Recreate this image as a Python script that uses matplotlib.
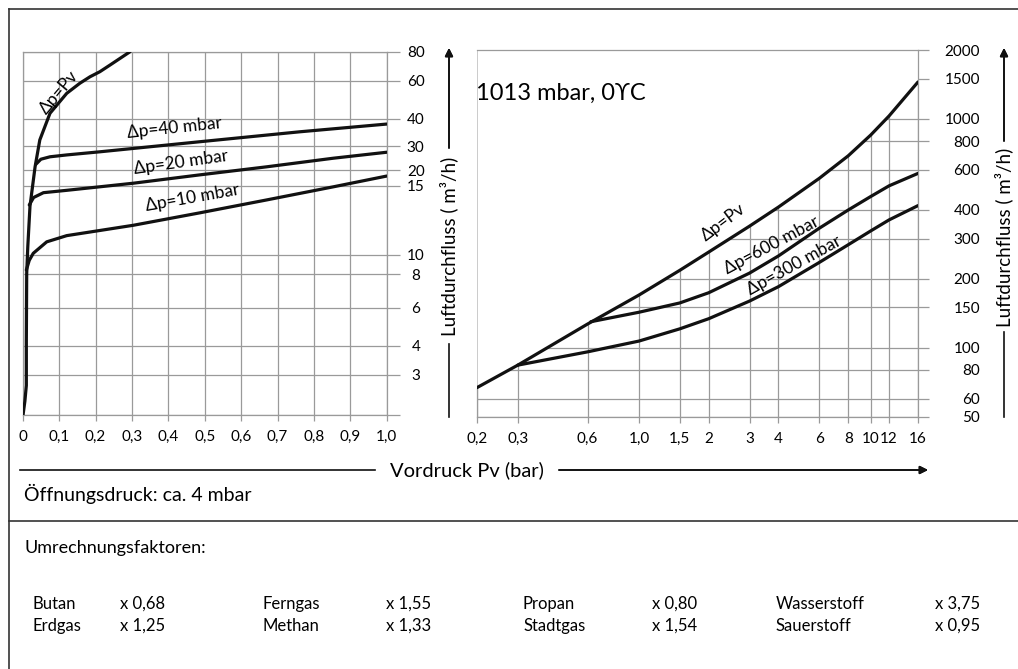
import numpy as np
import matplotlib.pyplot as plt
from matplotlib.lines import Line2D
from matplotlib.ticker import NullLocator

plt.rcParams['font.family'] = ['Lato', 'DejaVu Sans']

W, H = 1018, 669
GRID = '#9a9a9a'
INK = '#111111'

# ---------------- left chart: Vordruck 0 ... 1 bar ----------------
left_xticks = [0, 0.1, 0.2, 0.3, 0.4, 0.5, 0.6, 0.7, 0.8, 0.9, 1.0]
left_xlabels = ['0', '0,1', '0,2', '0,3', '0,4', '0,5', '0,6', '0,7', '0,8', '0,9', '1,0']
left_yticks = [2, 3, 4, 6, 8, 10, 15, 20, 30, 40, 60, 80]
left_ylabels = ['', '3', '4', '6', '8', '10', '15', '20', '30', '40', '60', '80']
# the printed flow scale is hand drawn and not an even log scale,
# so the axis is warped: height of every tick line above the bottom line
left_ytick_height = [0, 40, 69.3, 107.3, 140.7, 160, 229.3, 245, 269, 296, 334.3, 363.3]

l_pv_x = [0.0, 0.006, 0.010, 0.010, 0.011, 0.014, 0.020, 0.034, 0.047, 0.075, 0.121, 0.157, 0.185, 0.212, 0.240, 0.295]
l_pv_y = [1.95, 2.3, 2.7, 4.2, 8.1, 10.5, 13.3, 21.1, 32, 42.5, 52.5, 58.4, 62.4, 65.6, 70.1, 80]

l_40_x = [0.036, 0.050, 0.075, 0.121, 0.212, 0.487, 0.761, 1.0]
l_40_y = [22.0, 24.0, 25.0, 25.8, 27.2, 31.4, 34.9, 37.9]

l_20_x = [0.018, 0.030, 0.057, 0.121, 0.304, 0.487, 0.670, 0.853, 1.0]
l_20_y = [13.4, 14.0, 14.4, 14.6, 15.7, 18.3, 21.1, 24.4, 27.0]

l_10_x = [0.010, 0.018, 0.029, 0.066, 0.121, 0.304, 0.487, 0.670, 0.853, 1.0]
l_10_y = [8.4, 9.4, 10.1, 10.8, 11.2, 11.9, 12.8, 13.8, 14.9, 17.9]

# ---------------- right chart: Vordruck 0,2 ... 16 bar ----------------
right_xticks = [0.2, 0.3, 0.6, 1.0, 1.5, 2, 3, 4, 6, 8, 10, 12, 16]
right_xlabels = ['0,2', '0,3', '0,6', '1,0', '1,5', '2', '3', '4', '6', '8', '10', '12', '16']
right_yticks = [50, 60, 80, 100, 150, 200, 300, 400, 600, 800, 1000, 1500, 2000]
right_ylabels = [str(v) for v in right_yticks]

r_pv_x = [0.2, 0.3, 0.6, 1.0, 1.5, 2, 3, 4, 6, 8, 10, 12, 16]
r_pv_y = [67, 84, 127, 170, 218, 262, 340, 412, 550, 690, 850, 1030, 1450]

r_600_x = [0.62, 1.0, 1.5, 2, 3, 4, 6, 8, 10, 12, 16]
r_600_y = [130, 143, 157, 174, 212, 252, 333, 400, 458, 510, 578]

r_300_x = [0.3, 0.6, 1.0, 1.5, 2, 3, 4, 6, 8, 10, 12, 16]
r_300_y = [84, 96, 107, 121, 134, 160, 185, 236, 282, 324, 362, 418]

# ---------------- conversion factors ----------------
gas_names = [['Butan', 'Erdgas'], ['Ferngas', 'Methan'], ['Propan', 'Stadtgas'], ['Wasserstoff', 'Sauerstoff']]
gas_factors = [['x 0,68', 'x 1,25'], ['x 1,55', 'x 1,33'], ['x 0,80', 'x 1,54'], ['x 3,75', 'x 0,95']]


def fx(x):
    return x / W


def fy(y):
    return 1 - y / H


# warped scale for the left flow axis
_lk = np.log10(left_yticks)
_lh = np.array(left_ytick_height, float)
_dec = (_lh[-1] - _lh[0]) / (_lk[-1] - _lk[0])
LK = np.r_[_lk[0] - 6, _lk, _lk[-1] + 6]
LH = np.r_[_lh[0] - 6 * _dec, _lh, _lh[-1] + 6 * _dec]


def warp_fwd(v):
    v = np.clip(np.asarray(v, float), 1e-6, None)
    return np.interp(np.log10(v), LK, LH)


def warp_inv(h):
    return 10 ** np.interp(np.asarray(h, float), LH, LK)


fig = plt.figure(figsize=(W / 100, H / 100), dpi=100)

# ---- left axes ----
ax1 = fig.add_axes([fx(22.7), fy(415), 364 / W, 363.3 / H])
ax1.set_yscale('function', functions=(warp_fwd, warp_inv))
ax1.set_xlim(0, 1.0)
ax1.set_ylim(2, 80)
ax1.set_xticks(left_xticks, left_xlabels)
ax1.set_yticks(left_yticks, left_ylabels)
ax1.yaxis.set_minor_locator(NullLocator())
ax1.set_axisbelow(True)
ax1.grid(True, color=GRID, lw=0.9)
for s in ax1.spines.values():
    s.set_color(GRID)
    s.set_linewidth(0.9)
ax1.tick_params(axis='y', left=False, right=True, labelleft=False, labelright=True,
                length=9.4, width=0.9, color=GRID, pad=11.5, labelsize=11)
ax1.tick_params(axis='x', length=4, width=0.9, color=GRID, pad=7, labelsize=11)
for t in ax1.get_yticklabels():
    t.set_horizontalalignment('center')

for xs, ys in [(l_pv_x, l_pv_y), (l_40_x, l_40_y), (l_20_x, l_20_y), (l_10_x, l_10_y)]:
    ax1.plot(xs, ys, color=INK, lw=2.3, zorder=3, solid_capstyle='round', solid_joinstyle='round')

ax1.text(0.100, 53, 'Δp=Pv', rotation=50, ha='center', va='center', fontsize=12.5, zorder=4)
ax1.text(0.418, 36.5, 'Δp=40 mbar', rotation=6, ha='center', va='center', fontsize=12.5, zorder=4)
ax1.text(0.435, 22.8, 'Δp=20 mbar', rotation=8, ha='center', va='center', fontsize=12.5, zorder=4)
ax1.text(0.465, 14.0, 'Δp=10 mbar', rotation=10, ha='center', va='center', fontsize=12.5, zorder=4)

# ---- right axes ----
ax2 = fig.add_axes([fx(477), fy(416.7), 441 / W, 366.7 / H])
ax2.set_xscale('log')
ax2.set_yscale('log')
ax2.set_xlim(0.2, 16)
ax2.set_ylim(50, 2000)
ax2.set_xticks(right_xticks, right_xlabels)
ax2.set_yticks(right_yticks, right_ylabels)
ax2.xaxis.set_minor_locator(NullLocator())
ax2.yaxis.set_minor_locator(NullLocator())
ax2.set_axisbelow(True)
ax2.grid(True, color=GRID, lw=0.9)
for s in ax2.spines.values():
    s.set_visible(False)
ax2.tick_params(axis='y', left=False, right=True, labelleft=False, labelright=True,
                length=8, width=0.9, color=GRID, pad=36.7, labelsize=11)
ax2.tick_params(axis='x', length=4, width=0.9, color=GRID, pad=7, labelsize=11)
for t in ax2.get_yticklabels():
    t.set_horizontalalignment('right')

# grid is only printed below the upper curve
ax2.fill_between(r_pv_x, r_pv_y, 2000, color='white', lw=0, zorder=1)
ax2.axhline(2000, color=GRID, lw=0.9, zorder=1.5, clip_on=False)
ax2.axhline(50, color=GRID, lw=0.9, zorder=1.5, clip_on=False)
ax2.axvline(16, color=GRID, lw=0.9, zorder=1.5, clip_on=False)
ax2.vlines(0.2, 50, r_pv_y[0], color=GRID, lw=0.9, zorder=1.5, clip_on=False)

for xs, ys in [(r_pv_x, r_pv_y), (r_600_x, r_600_y), (r_300_x, r_300_y)]:
    ax2.plot(xs, ys, color=INK, lw=2.3, zorder=3, solid_capstyle='round', solid_joinstyle='round')

ax2.text(2.3, 355, 'Δp=Pv', rotation=37, ha='center', va='center', fontsize=12.5, zorder=4)
ax2.text(3.72, 280, 'Δp=600 mbar', rotation=28, ha='center', va='center', fontsize=12.5, zorder=4)
ax2.text(4.67, 228, 'Δp=300 mbar', rotation=29, ha='center', va='center', fontsize=12.5, zorder=4)

fig.text(fx(476), fy(93), '1013 mbar, 0ϒC', fontsize=17, va='center', ha='left')

# ---- axis titles with arrows ----
arrow = dict(arrowstyle='-|>', color=INK, lw=1.2, mutation_scale=12, shrinkA=0, shrinkB=0)


def vline(x, y0, y1):
    fig.add_artist(Line2D([fx(x), fx(x)], [fy(y0), fy(y1)], color=INK, lw=1.2, transform=fig.transFigure))


def hline(x0, x1, y, c=INK, lw=1.2):
    fig.add_artist(Line2D([fx(x0), fx(x1)], [fy(y), fy(y)], color=c, lw=lw, transform=fig.transFigure))


for xl, yc, ylow, yup in [(449, 246, 344, 148), (1004, 237, 332, 141)]:
    fig.text(fx(xl), fy(yc), 'Luftdurchfluss ( m³/h)', rotation=90, ha='center', va='center', fontsize=13.5)
    vline(xl, 417, ylow)
    fig.add_artist(plt.annotate('', xy=(fx(xl), fy(48)), xytext=(fx(xl), fy(yup)),
                                xycoords='figure fraction', textcoords='figure fraction', arrowprops=arrow))

fig.text(fx(467), fy(470), 'Vordruck Pv (bar)', ha='center', va='center', fontsize=14.5)
hline(20, 375, 470)
fig.add_artist(plt.annotate('', xy=(fx(928), fy(470)), xytext=(fx(559), fy(470)),
                            xycoords='figure fraction', textcoords='figure fraction', arrowprops=arrow))

# ---- frame and notes ----
fig.add_artist(Line2D([fx(9), fx(9)], [fy(9), fy(H)], color='#333333', lw=1.2, transform=fig.transFigure))
hline(9, W, 9, c='#333333')
hline(9, W, 521, c='#333333')

fig.text(fx(24), fy(494), 'Öffnungsdruck: ca. 4 mbar', va='center', fontsize=14)
fig.text(fx(24), fy(548), 'Umrechnungsfaktoren:', va='center', fontsize=13)

name_x = [33, 263, 523, 776]
fac_x = [120, 386, 652, 935]
row_y = [604, 626]
for c in range(4):
    for r in range(2):
        fig.text(fx(name_x[c]), fy(row_y[r]), gas_names[c][r], va='center', fontsize=12)
        fig.text(fx(fac_x[c]), fy(row_y[r]), gas_factors[c][r], va='center', fontsize=12)

fig.savefig('out.png', dpi=100)
